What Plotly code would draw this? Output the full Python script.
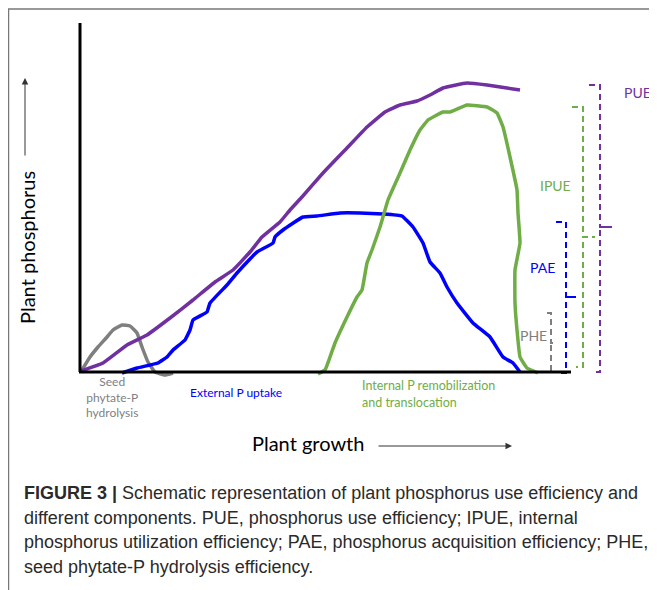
import plotly.graph_objects as go

# ---- data (arbitrary schematic units: growth on x, plant P on y) ----
pue_x = [1, 23, 47, 67, 90, 113, 135, 153, 170, 182, 200, 210, 222, 243, 267, 287, 305, 320, 337, 350, 363, 387, 407, 427, 440]
pue_y = [1, 9, 27, 37, 54, 72, 90, 102, 120, 135, 150, 162, 175, 199, 224, 245, 260, 267, 271, 277, 284, 289, 287, 284, 282]

pae_x = [42, 57, 78, 87, 93, 105, 110, 113, 127, 130, 147, 157, 170, 177, 193, 195, 203, 223, 237, 260, 280, 303, 322, 333, 343, 350, 360, 367, 377, 393, 410, 423, 433, 440]
pae_y = [-1, 4, 9, 15, 22, 32, 42, 52, 60, 69, 87, 99, 113, 120, 129, 135, 142, 155, 156, 159, 159, 158, 156, 145, 129, 110, 99, 85, 69, 49, 35, 15, 9, 0]

phe_x = [2, 10, 18, 27, 33, 42, 50, 57, 62, 68, 75, 85, 93]
phe_y = [2, 15, 25, 35, 42, 47, 46, 39, 25, 10, 0, -3, -1]

ipue_x = [238, 245, 250, 255, 267, 277, 282, 287, 292, 300, 308, 320, 330, 340, 348, 363, 370, 387, 407, 417, 423, 430, 437, 438, 440, 435, 435, 437, 440, 447, 458]
ipue_y = [-2, 2, 15, 29, 55, 75, 82, 109, 122, 145, 172, 199, 222, 242, 252, 260, 260, 267, 265, 259, 245, 215, 182, 159, 129, 102, 69, 42, 15, 4, -1]

# bracket extents: (label, top, middle, bottom)
brackets = [
    ("PHE", 59, 29, 0),
    ("PAE", 150, 75, -1),
    ("IPUE", 265, 135, 5),
    ("PUE", 287, 145, 0),
]

PURPLE = "#7030A0"
BLUE = "#0000FF"
GREEN = "#70AD47"
GRAY = "#7F7F7F"
FONT = "Lato"

# page body has an 8px default margin: figure is sized/offset to compensate
W, H, OFF = 649, 582, 8


def px(X):
    return (X - OFF) / W


def py(Y):
    return 1 - (Y - OFF) / H


fig = go.Figure()

for xs, ys, col in [(phe_x, phe_y, GRAY), (pue_x, pue_y, PURPLE), (pae_x, pae_y, BLUE), (ipue_x, ipue_y, GREEN)]:
    fig.add_trace(go.Scatter(x=xs, y=ys, mode="lines", line=dict(color=col, width=3.5, shape="spline", smoothing=0.3),
                             hoverinfo="skip", showlegend=False))

# axes lines
fig.add_shape(type="line", x0=0, y0=0, x1=0, y1=349, xref="x", yref="y", line=dict(color="black", width=3))
fig.add_shape(type="line", x0=-1, y0=0, x1=491, y1=0, xref="x", yref="y", line=dict(color="black", width=3))

# brackets: position x, top tick length (left), mid tick (right), bottom tick (left)
bracket_style = {
    "PHE": dict(x=471, tl=4, mr=2, bl=0, color=GRAY),
    "PAE": dict(x=486, tl=10, mr=10, bl=7, color=BLUE),
    "IPUE": dict(x=503, tl=11, mr=12, bl=7, color=GREEN),
    "PUE": dict(x=520, tl=11, mr=12, bl=7, color=PURPLE),
}
for name, top, mid, bot in brackets:
    s = bracket_style[name]
    bx = s["x"]
    xs = [bx - s["tl"], bx, bx, bx + s["mr"], bx, bx, bx - s["bl"]]
    ys = [top, top, mid, mid, mid, bot, bot]
    fig.add_trace(go.Scatter(x=xs, y=ys, mode="lines", line=dict(color=s["color"], width=2, dash="6px,4px"),
                             hoverinfo="skip", showlegend=False))

labels = [
    ("PUE", 557, 280, PURPLE),
    ("IPUE", 475, 187, GREEN),
    ("PAE", 462, 105, BLUE),
    ("PHE", 453, 37, GRAY),
]
for t, x, y, c in labels:
    fig.add_annotation(x=x, y=y, text=t, showarrow=False, font=dict(family=FONT, size=14, color=c))

fig.add_annotation(x=32, y=-25, text="Seed<br>phytate-P<br>hydrolysis", showarrow=False,
                   font=dict(family=FONT, size=12, color=GRAY), align="center")
fig.add_annotation(x=108, y=-20, text="External P uptake", showarrow=False, xanchor="left",
                   font=dict(family=FONT, size=12, color=BLUE))
fig.add_annotation(x=280, y=-13, text="Internal P remobilization", showarrow=False, xanchor="left",
                   font=dict(family=FONT, size=12.5, color=GREEN))
fig.add_annotation(x=280, y=-30, text="and translocation", showarrow=False, xanchor="left",
                   font=dict(family=FONT, size=12.5, color=GREEN))

# axis titles with arrows
fig.add_annotation(x=-53, y=124, text="Plant phosphorus", textangle=-90, showarrow=False,
                   font=dict(family=FONT, size=20, color="black"))
fig.add_annotation(x=-55, y=294, ax=-55, ay=215, axref="x", ayref="y", text="", showarrow=True,
                   arrowhead=2, arrowsize=1.3, arrowwidth=1, arrowcolor="#333")
fig.add_annotation(x=228, y=-71, text="Plant growth", showarrow=False,
                   font=dict(family=FONT, size=20, color="black"))
fig.add_annotation(x=432, y=-74, ax=297, ay=-74, axref="x", ayref="y", text="", showarrow=True,
                   arrowhead=2, arrowsize=1.3, arrowwidth=1, arrowcolor="#333")

# frame
fig.add_shape(type="line", xref="paper", yref="paper", x0=px(7), x1=1, y0=py(9), y1=py(9),
              line=dict(color="#777", width=1.5))
fig.add_shape(type="line", xref="paper", yref="paper", x0=px(8.5), x1=px(8.5), y0=0, y1=py(9),
              line=dict(color="#777", width=1.5))

# caption
caption = [
    "<b>FIGURE 3 |</b> Schematic representation of plant phosphorus use efficiency and",
    "different components. PUE, phosphorus use efficiency; IPUE, internal",
    "phosphorus utilization efficiency; PAE, phosphorus acquisition efficiency; PHE,",
    "seed phytate-P hydrolysis efficiency.",
]
for i, line in enumerate(caption):
    yc = 493 + i * 24.7
    fig.add_annotation(xref="paper", yref="paper", x=px(22), y=py(yc), xanchor="left", yanchor="middle",
                       text=line, showarrow=False, font=dict(family="Liberation Sans", size=18, color="#2a2a2a"))

fig.update_layout(
    width=W, height=H, margin=dict(l=0, r=0, t=0, b=0),
    paper_bgcolor="white", plot_bgcolor="white",
    xaxis=dict(range=[-80 + OFF, 577], visible=False, fixedrange=True),
    yaxis=dict(range=[-218, 372 - OFF], visible=False, fixedrange=True),
)

fig.write_html("out.html")
